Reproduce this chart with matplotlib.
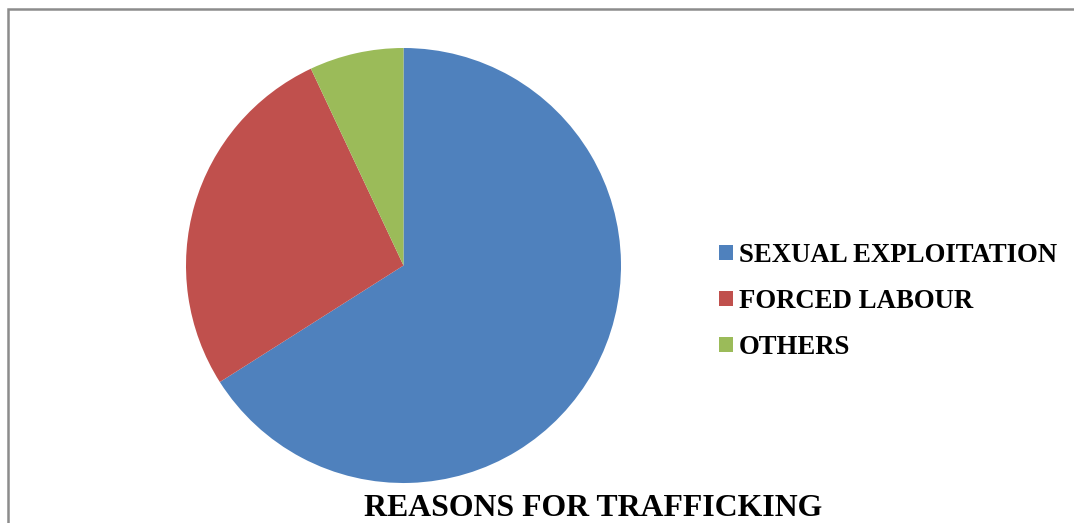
import matplotlib.pyplot as plt
from matplotlib.patches import Rectangle

labels = ["SEXUAL EXPLOITATION", "FORCED LABOUR", "OTHERS"]
values = [66, 27, 7]
colors = ["#4F81BD", "#C0504D", "#9BBB59"]

W, H = 1074, 523
fig = plt.figure(figsize=(W / 100, H / 100), dpi=100)
plt.rcParams['font.family'] = ['Liberation Serif', 'DejaVu Serif']

# outer chart frame (runs off the right and bottom edges)
fig.patches.append(Rectangle((8 / W, -0.1), 1.2, (H - 9) / H + 0.1,
                             transform=fig.transFigure, fill=False,
                             edgecolor="#8c8c8c", linewidth=1.8))

cx, cy, r = 403.5, 265.5, 217.5
ax = fig.add_axes([(cx - r) / W, (H - cy - r) / H, 2 * r / W, 2 * r / H])
wedges, _ = ax.pie(values, colors=colors, startangle=90, counterclock=False,
                   radius=1, wedgeprops=dict(linewidth=0))
ax.set_xlim(-1, 1)
ax.set_ylim(-1, 1)
ax.set_aspect("equal")
ax.axis("off")

fig.legend(wedges, labels, loc="upper left",
           bbox_to_anchor=(719 / W, (H - 243) / H),
           frameon=False, prop=dict(size=19.3, weight="bold"),
           handlelength=0.52, handleheight=0.52, handletextpad=0.22,
           labelspacing=0.78, borderpad=0, borderaxespad=0)

fig.text(593 / W, (H - 508) / H, "REASONS FOR TRAFFICKING",
         ha="center", va="center", fontsize=22.9, fontweight="bold")

fig.savefig("out.png", dpi=100)
